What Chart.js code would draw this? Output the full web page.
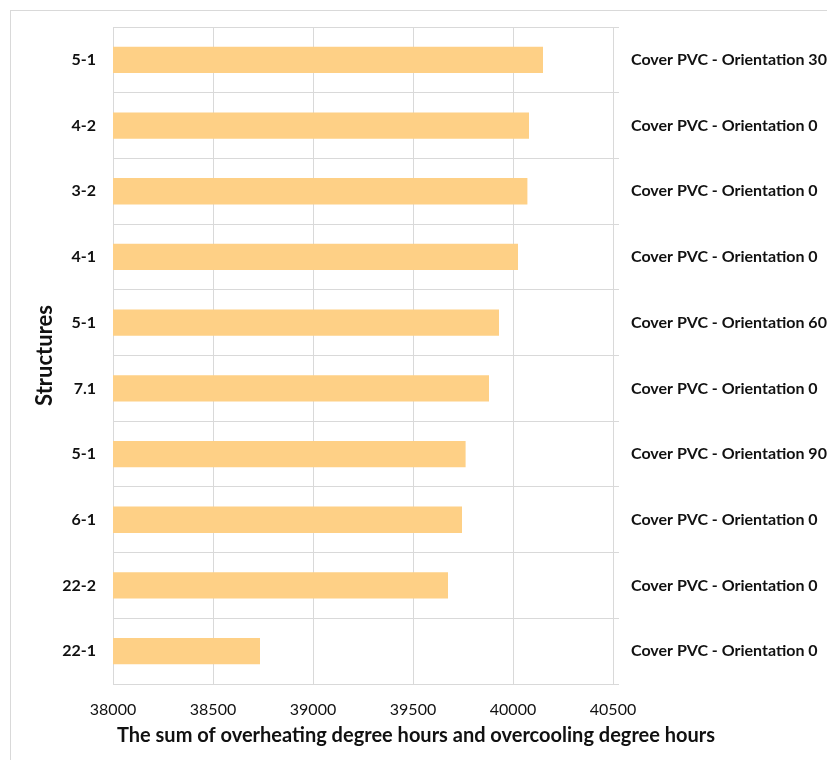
<!DOCTYPE html>
<html>
<head>
<meta charset="utf-8">
<title>Structures - overheating and overcooling degree hours</title>
<script src="https://cdn.jsdelivr.net/npm/chart.js@4.4.1/dist/chart.umd.min.js"></script>
<style>
    html, body { margin: 0; padding: 0; background: #ffffff; overflow: hidden; }
    #wrap {
        position: absolute;
        left: 10px;
        top: 10px;
        width: 900px;
        height: 760px;
        border: 1px solid #d9d9d9;
    }
</style>
</head>
<body>
<div id="wrap"><canvas id="chart-structures"></canvas></div>
<script>
// ============================================
// DATA
// ============================================

// Structures, listed top to bottom
const structures = ['5-1', '4-2', '3-2', '4-1', '5-1', '7.1', '5-1', '6-1', '22-2', '22-1'];

// Cover / orientation of each structure (right-hand labels)
const coverLabels = [
    'Cover PVC - Orientation 30',
    'Cover PVC - Orientation 0',
    'Cover PVC - Orientation 0',
    'Cover PVC - Orientation 0',
    'Cover PVC - Orientation 60',
    'Cover PVC - Orientation 0',
    'Cover PVC - Orientation 90',
    'Cover PVC - Orientation 0',
    'Cover PVC - Orientation 0',
    'Cover PVC - Orientation 0'
];

// Sum of overheating + overcooling degree hours
const degreeHours = [40150, 40080, 40072, 40025, 39930, 39880, 39763, 39745, 39675, 38735];

// Value axis range
const axisMin = 38000;
const axisMax = 40500;
const axisStep = 500;

const xAxisTitle = 'The sum of overheating degree hours and overcooling degree hours';

// ============================================
// CHART
// ============================================

const gridColor = '#d9d9d9';
const textColor = '#111111';
const fontFamily = "Lato, 'Open Sans', sans-serif";

// The built-in axis title is squeezed to the plot width, so the
// value-axis title is drawn here, centred under the whole chart.
const xTitlePlugin = {
    id: 'xTitle',
    afterDraw(chart) {
        const ctx = chart.ctx;
        ctx.save();
        ctx.font = 'bold 20px ' + fontFamily;
        ctx.fillStyle = textColor;
        ctx.textAlign = 'center';
        ctx.textBaseline = 'middle';
        ctx.fillText(xAxisTitle, 405, chart.scales.x.bottom - 35);
        ctx.restore();
    }
};

// vertical category axes: drop the half-label padding Chart.js adds above/below
const noEdgePadding = (scale) => {
    scale.paddingTop = 0;
    scale.paddingBottom = 0;
};

new Chart(document.getElementById('chart-structures'), {
    type: 'bar',
    data: {
        labels: structures,
        datasets: [{
            data: degreeHours,
            backgroundColor: '#fed086',
            borderWidth: 0,
            barPercentage: 0.4,
            categoryPercentage: 1.0,
            yAxisID: 'y'
        }]
    },
    plugins: [xTitlePlugin],
    options: {
        indexAxis: 'y',
        responsive: true,
        maintainAspectRatio: false,
        animation: false,
        layout: { padding: { top: 16, left: 0, right: 0, bottom: 0 } },
        plugins: {
            legend: { display: false },
            tooltip: { enabled: false }
        },
        scales: {
            x: {
                type: 'linear',
                position: 'bottom',
                min: axisMin,
                max: axisMax,
                afterFit: (scale) => { scale.height = 87; },
                grid: { color: gridColor, lineWidth: 1, drawTicks: false },
                border: { color: gridColor },
                ticks: {
                    stepSize: axisStep,
                    padding: 16,
                    color: textColor,
                    font: { family: fontFamily, size: 16 },
                    callback: (value) => String(value)   // no thousands separator
                }
            },
            y: {
                type: 'category',
                position: 'left',
                offset: true,
                afterFit: (scale) => {
                    scale.width = 102;
                    noEdgePadding(scale);
                },
                grid: { offset: true, color: gridColor, lineWidth: 1, drawTicks: false },
                border: { color: gridColor },
                ticks: {
                    padding: 17,
                    color: textColor,
                    font: { family: fontFamily, size: 16, weight: 'bold' }
                },
                title: {
                    display: true,
                    text: 'Structures',
                    color: textColor,
                    font: { family: fontFamily, size: 22, weight: 'bold' },
                    padding: { top: 21, bottom: 0 }
                }
            },
            yCover: {
                type: 'category',
                position: 'right',
                labels: coverLabels,
                offset: true,
                afterFit: (scale) => {
                    scale.width = scale.chart.width - 602;
                    noEdgePadding(scale);
                },
                grid: {
                    offset: true,
                    color: gridColor,
                    drawOnChartArea: false,
                    drawTicks: true,
                    tickLength: 6
                },
                border: { color: gridColor },
                ticks: {
                    padding: 12,
                    color: textColor,
                    font: { family: fontFamily, size: 16, weight: 'bold' }
                }
            }
        }
    }
});
</script>
</body>
</html>
